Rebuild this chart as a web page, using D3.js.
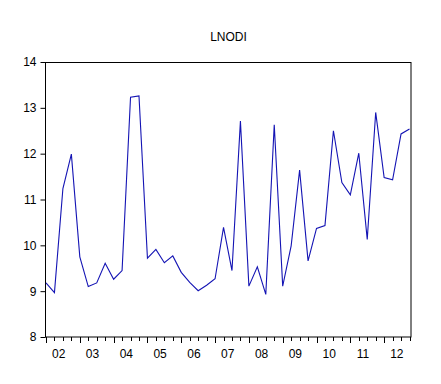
<!DOCTYPE html>
<html>
<head>
<meta charset="utf-8">
<script src="https://cdn.jsdelivr.net/npm/d3@7"></script>
<style>
body { margin: 0; background: #fff; }
text { font-family: Arial, "Liberation Sans", sans-serif; font-size: 12px; fill: #000; }
</style>
</head>
<body>
<svg width="441" height="384"></svg>
<script>
// quarterly, 2002Q1 - 2012Q4
var years = ["02", "03", "04", "05", "06", "07", "08", "09", "10", "11", "12"];
var lnodi = [
  9.18, 8.97, 11.24, 11.99, 9.75, 9.10, 9.18, 9.61, 9.26, 9.45,
  13.23, 13.26, 9.72, 9.91, 9.62, 9.77, 9.41, 9.19, 9.01, 9.13,
  9.27, 10.39, 9.45, 12.71, 9.11, 9.53, 8.93, 12.63, 9.11, 9.99,
  11.64, 9.66, 10.37, 10.43, 12.50, 11.37, 11.10, 12.01, 10.13, 12.90,
  11.48, 11.43, 12.43, 12.54
];
var yTicks = [8, 9, 10, 11, 12, 13, 14];

var svg = d3.select("svg");
var margin = {top: 62, left: 46, right: 30, bottom: 47};
var width = +svg.attr("width") - margin.left - margin.right;
var height = +svg.attr("height") - margin.top - margin.bottom;

var g = svg.append("g")
    .attr("transform", "translate(" + margin.left + "," + margin.top + ")");

var x = d3.scaleLinear()
    .domain([0, lnodi.length - 1])
    .range([0, width - 1.5]);

var y = d3.scaleLinear()
    .domain([8, 14])
    .range([height, 0]);

// title
svg.append("text")
    .attr("x", margin.left + width / 2)
    .attr("y", 41)
    .attr("text-anchor", "middle")
    .text("LNODI");

// frame
g.append("rect")
    .attr("x", -0.5)
    .attr("y", 0.5)
    .attr("width", width + 0.5)
    .attr("height", height - 0.5)
    .attr("fill", "none")
    .attr("stroke", "#000")
    .attr("stroke-width", 1);

// y axis
var yAxis = g.append("g")
    .attr("transform", "translate(-0.5,0)")
    .call(d3.axisLeft(y).tickValues(yTicks).tickSize(5).tickPadding(4).tickFormat(d3.format("d")));
yAxis.select(".domain").remove();
yAxis.selectAll("text").style("font-size", "12px");

// x axis: minor ticks each quarter, longer at year starts
var xAxis = g.append("g")
    .attr("transform", "translate(0," + height + ")");
xAxis.selectAll("line")
    .data(d3.range(lnodi.length))
    .enter().append("line")
    .attr("x1", function(d) { return Math.round(x(d)) + 0.5; })
    .attr("x2", function(d) { return Math.round(x(d)) + 0.5; })
    .attr("y1", 0)
    .attr("y2", function(d) { return d % 4 === 0 ? 6 : 4; })
    .attr("stroke", "#000");

xAxis.selectAll("text")
    .data(years)
    .enter().append("text")
    .attr("x", function(d, i) { return x(i * 4 + 1.5); })
    .attr("y", 21)
    .attr("text-anchor", "middle")
    .text(function(d) { return d; });

// series
var line = d3.line()
    .x(function(d, i) { return x(i); })
    .y(function(d) { return y(d); });

g.append("path")
    .datum(lnodi)
    .attr("fill", "none")
    .attr("stroke", "#1414b4")
    .attr("stroke-width", 1.1)
    .attr("d", line);
</script>
</body>
</html>
